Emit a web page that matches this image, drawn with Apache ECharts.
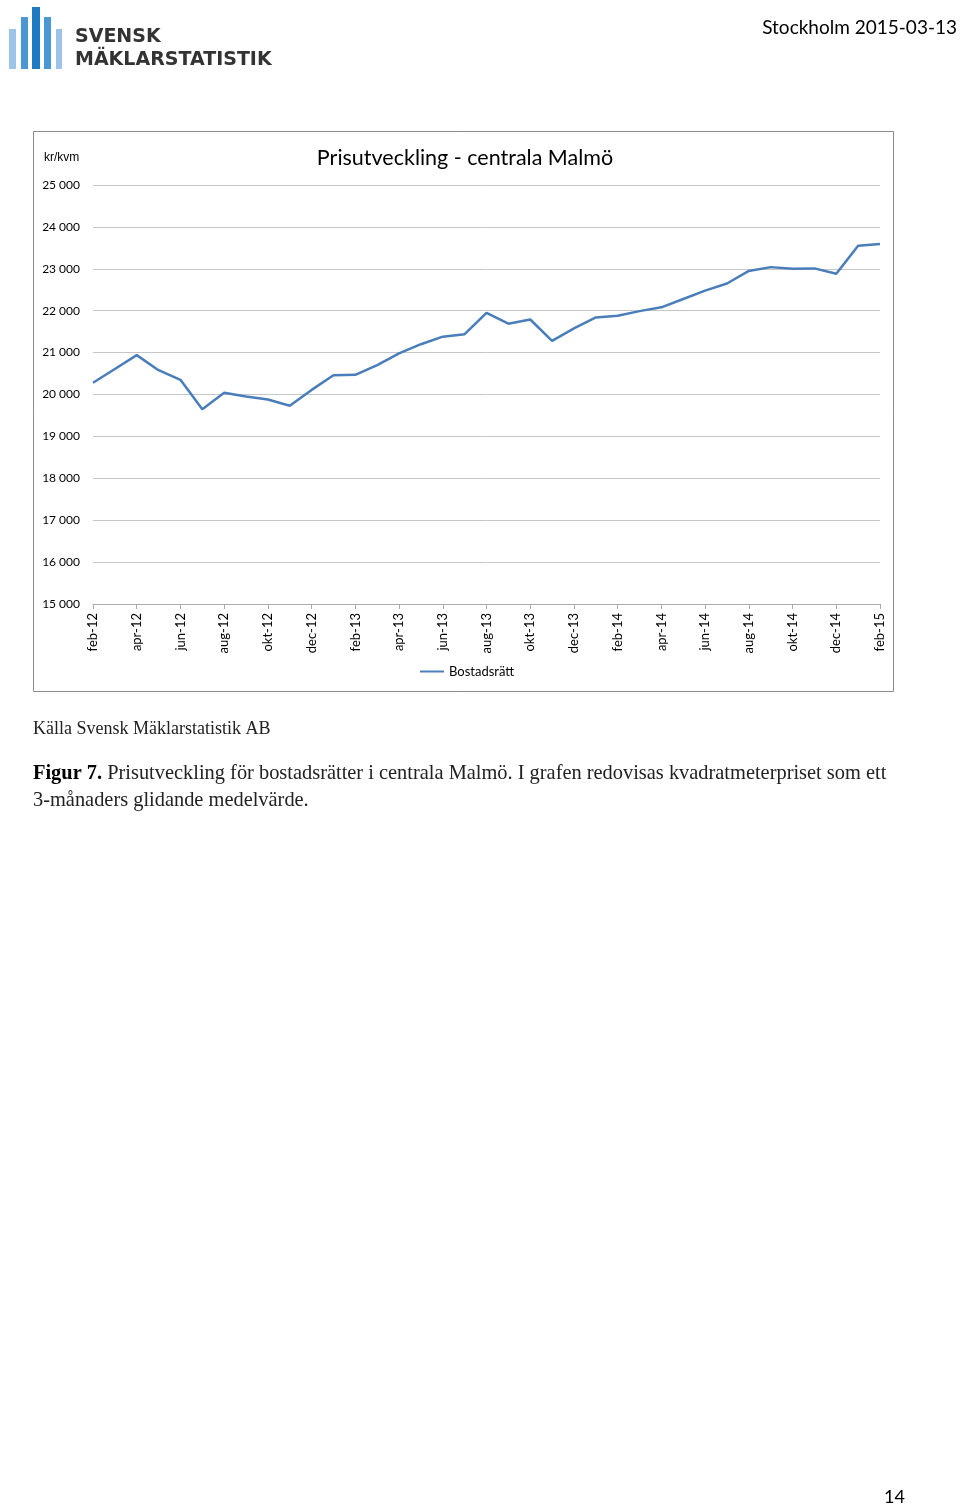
<!DOCTYPE html>
<html><head><meta charset="utf-8">
<script src="https://cdn.jsdelivr.net/npm/echarts@6/dist/echarts.min.js"></script>
<style>html,body{margin:0;padding:0;background:#fff}#c{width:960px;height:1506px}</style>
</head><body><div id="c"></div>
<script>
const months = ['feb-12','mar-12','apr-12','maj-12','jun-12','jul-12','aug-12','sep-12','okt-12','nov-12','dec-12','jan-13',
 'feb-13','mar-13','apr-13','maj-13','jun-13','jul-13','aug-13','sep-13','okt-13','nov-13','dec-13','jan-14',
 'feb-14','mar-14','apr-14','maj-14','jun-14','jul-14','aug-14','sep-14','okt-14','nov-14','dec-14','jan-15','feb-15'];
const bostadsratt = [20280,20610,20940,20580,20350,19650,20040,19950,19880,19730,20110,20460,
 20470,20700,20980,21200,21380,21440,21950,21690,21790,21280,21580,21840,
 21880,21990,22080,22280,22480,22650,22950,23040,23000,23010,22880,23550,23590];
const yMin = 15000, yMax = 25000, yStep = 1000;

const chart = echarts.init(document.getElementById('c'), null, {renderer:'canvas'});
const sansFont = 'Lato, "Open Sans", sans-serif';
const serifFont = '"Liberation Serif", "DejaVu Serif", serif';
function fmt(v){ return String(v).replace(/\B(?=(\d{3})+(?!\d))/g,' '); }

chart.setOption({
  animation:false,
  backgroundColor:'#fff',
  textStyle:{fontFamily:sansFont},
  title:{text:'Prisutveckling - centrala Malmö', left:460, top:142, textAlign:'center',
    textStyle:{fontSize:21.5, fontWeight:'normal', color:'#000', fontFamily:sansFont}},
  legend:{data:['Bostadsrätt'], left:420, top:665, icon:'rect', itemWidth:24, itemHeight:2, itemGap:4,
    textStyle:{fontSize:13, color:'#000', fontFamily:sansFont}, padding:[0,0,0,0]},
  grid:{left:93, right:80, top:185, bottom:902, containLabel:false},
  xAxis:{type:'category', data:months, boundaryGap:false,
    axisLine:{lineStyle:{color:'#aaa'}},
    axisTick:{show:true, interval:1, length:5, lineStyle:{color:'#aaa'}},
    axisLabel:{interval:1, rotate:90, margin:9, fontSize:13, color:'#000', fontFamily:sansFont}},
  yAxis:{type:'value', min:yMin, max:yMax, interval:yStep,
    axisLine:{show:false}, axisTick:{show:false},
    axisLabel:{formatter:fmt, fontSize:12, color:'#000', margin:13, fontFamily:sansFont},
    splitLine:{lineStyle:{color:'#c6c6c6', width:1}}},
  series:[{name:'Bostadsrätt', type:'line', data:bostadsratt, symbol:'none',
    lineStyle:{color:'#4a7ebb', width:2.5}, itemStyle:{color:'#4a7ebb'}}],
  graphic:[
    {type:'rect', shape:{x:33.5,y:131.5,width:860,height:560}, style:{fill:'none', stroke:'#8c8c8c', lineWidth:1}, z:-1},
    {type:'text', left:44, top:152, style:{text:'kr/kvm', fontSize:12, fill:'#000', font:'12px '+sansFont}},
    // logo bars
    {type:'rect', shape:{x:9,y:29,width:7,height:40}, style:{fill:'#9cc4e8'}},
    {type:'rect', shape:{x:21,y:17,width:7,height:52}, style:{fill:'#4a97d6'}},
    {type:'rect', shape:{x:32,y:7,width:8,height:62}, style:{fill:'#1f7ac4'}},
    {type:'rect', shape:{x:44,y:17,width:7,height:52}, style:{fill:'#4a97d6'}},
    {type:'rect', shape:{x:56,y:29,width:6,height:40}, style:{fill:'#9cc4e8'}},
    {type:'text', x:75, y:28, style:{text:'SVENSK', font:'bold 19px "DejaVu Sans", sans-serif', fill:'#333', textVerticalAlign:'top'}},
    {type:'text', x:75, y:51, style:{text:'MÄKLARSTATISTIK', font:'bold 19px "DejaVu Sans", sans-serif', fill:'#333', textVerticalAlign:'top'}},
    {type:'text', right:3, top:18, style:{text:'Stockholm 2015-03-13', font:'19px '+sansFont, fill:'#000'}},
    {type:'text', x:33, y:720, style:{text:'Källa Svensk Mäklarstatistik AB', font:'18px '+serifFont, fill:'#222'}},
    {type:'text', x:33, y:764, style:{rich:{b:{font:'bold 20.4px '+serifFont, fill:'#000'}, n:{font:'20.4px '+serifFont, fill:'#222'}},
      text:'{b|Figur 7.}{n| Prisutveckling för bostadsrätter i centrala Malmö. I grafen redovisas kvadratmeterpriset som ett}'}},
    {type:'text', x:33, y:791, style:{text:'3-månaders glidande medelvärde.', font:'20.4px '+serifFont, fill:'#222'}},
    {type:'text', x:884, y:1488, style:{text:'14', font:'18px '+sansFont, fill:'#000'}}
  ]
});
</script></body></html>
